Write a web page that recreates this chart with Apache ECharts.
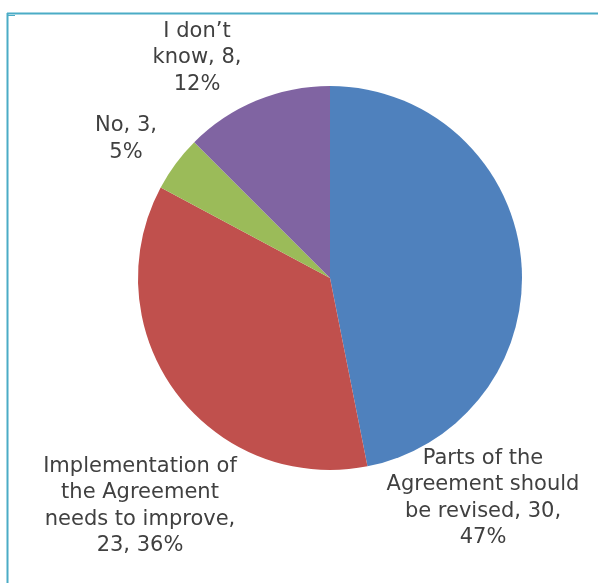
<!DOCTYPE html>
<html>
<head>
<meta charset="utf-8">
<script src="https://cdn.jsdelivr.net/npm/echarts@6/dist/echarts.min.js"></script>
<style>html,body{margin:0;padding:0;background:#fff;}#c{width:598px;height:583px;}</style>
</head>
<body>
<div id="c"></div>
<script>
const categories = ['Parts of the Agreement should be revised', 'Implementation of the Agreement needs to improve', 'No', 'I don’t know'];
const values = [30, 23, 3, 8];
const labelTexts = [
  'Parts of the\nAgreement should\nbe revised, 30,\n47%',
  'Implementation of\nthe Agreement\nneeds to improve,\n23, 36%',
  'No, 3,\n5%',
  'I don’t\nknow, 8,\n12%'
];
const colors = ['#4f81bd', '#c0504d', '#9bbb59', '#8064a2'];
const labelPos = [[483, 498], [140, 506], [126, 139], [197, 58]];

const chart = echarts.init(document.getElementById('c'));
chart.setOption({
  animation: false,
  graphic: [
    {type: 'line', shape: {x1: 7.5, y1: 13, x2: 7.5, y2: 583}, style: {stroke: '#4bacc6', lineWidth: 2}},
    {type: 'line', shape: {x1: 7, y1: 13.5, x2: 598, y2: 13.5}, style: {stroke: '#4bacc6', lineWidth: 2}},
    {type: 'line', shape: {x1: 7, y1: 15.5, x2: 15, y2: 15.5}, style: {stroke: '#4bacc6', lineWidth: 1}}
  ],
  series: [{
    type: 'pie',
    center: [330, 278],
    radius: 192,
    startAngle: 90,
    clockwise: true,
    avoidLabelOverlap: false,
    data: categories.map((c, i) => ({name: c, value: values[i], itemStyle: {color: colors[i]}})),
    label: {
      show: true,
      position: 'outside',
      formatter: p => labelTexts[p.dataIndex],
      fontFamily: '"DejaVu Sans", Verdana, sans-serif',
      fontSize: 21,
      lineHeight: 26.3,
      color: '#404040',
      align: 'center',
      overflow: 'none',
      width: 300
    },
    labelLine: {show: false},
    labelLayout: p => ({x: labelPos[p.dataIndex][0], y: labelPos[p.dataIndex][1], align: 'center', verticalAlign: 'middle'}),
    emphasis: {disabled: true}
  }]
});
</script>
</body>
</html>
